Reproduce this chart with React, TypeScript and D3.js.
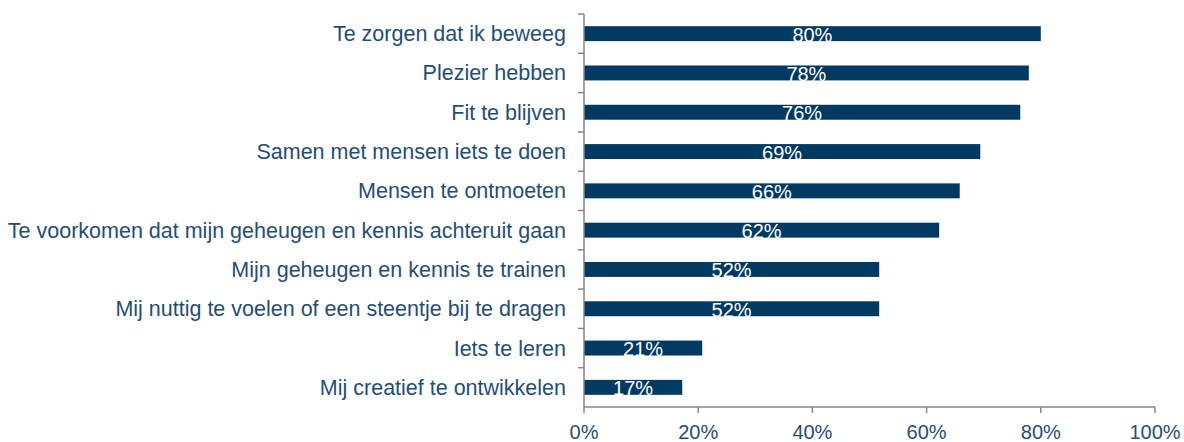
import React, { useEffect, useRef } from 'react';
import * as d3 from 'd3';

const categories = [
  'Te zorgen dat ik beweeg',
  'Plezier hebben',
  'Fit te blijven',
  'Samen met mensen iets te doen',
  'Mensen te ontmoeten',
  'Te voorkomen dat mijn geheugen en kennis achteruit gaan',
  'Mijn geheugen en kennis te trainen',
  'Mij nuttig te voelen of een steentje bij te dragen',
  'Iets te leren',
  'Mij creatief te ontwikkelen',
];
const values = [80.0, 77.9, 76.4, 69.4, 65.8, 62.2, 51.7, 51.7, 20.7, 17.2];
const xTicks = [0, 20, 40, 60, 80, 100];

const W = 1184;
const H = 442;
const TEXT = '#1F4E79';
const BAR = '#003A63';
const AXIS = '#868686';

export default function App() {
  const ref = useRef<SVGSVGElement>(null);

  useEffect(() => {
    const svg = d3.select(ref.current);
    svg.selectAll('*').remove();

    const left = 584, right = 1155, top = 14, bottom = 407;

    const x = d3.scaleLinear().domain([0, 100]).range([left, right]);
    const y = d3.scaleBand().domain(categories).range([top, bottom]).paddingInner(0.62).paddingOuter(0.31);

    const g = svg.append('g').style('font-family', 'Liberation Sans, Arial, sans-serif');

    // bars
    g.selectAll('rect.bar')
      .data(values)
      .enter()
      .append('rect')
      .attr('class', 'bar')
      .attr('x', x(0))
      .attr('y', (d, i) => y(categories[i])!)
      .attr('width', (d) => x(d) - x(0))
      .attr('height', y.bandwidth())
      .attr('fill', BAR);

    // value labels
    g.selectAll('text.val')
      .data(values)
      .enter()
      .append('text')
      .attr('class', 'val')
      .attr('x', (d) => (x(0) + x(d)) / 2)
      .attr('y', (d, i) => y(categories[i])! + y.bandwidth() / 2 + 8)
      .attr('text-anchor', 'middle')
      .attr('fill', '#fff')
      .style('font-size', '20px')
      .text((d) => Math.round(d) + '%');

    // y axis
    const step = (bottom - top) / categories.length;
    g.append('line')
      .attr('x1', left).attr('x2', left)
      .attr('y1', top).attr('y2', bottom)
      .attr('stroke', AXIS).attr('stroke-width', 1.5);
    d3.range(categories.length).forEach((i) => {
      g.append('line')
        .attr('x1', left - 6).attr('x2', left)
        .attr('y1', top + i * step).attr('y2', top + i * step)
        .attr('stroke', AXIS).attr('stroke-width', 1.5);
    });

    g.selectAll('text.cat')
      .data(categories)
      .enter()
      .append('text')
      .attr('class', 'cat')
      .attr('x', left - 18)
      .attr('y', (d) => y(d)! + y.bandwidth() / 2)
      .attr('dy', '0.35em')
      .attr('text-anchor', 'end')
      .attr('fill', TEXT)
      .style('font-size', '21.5px')
      .text((d) => d);

    // x axis
    g.append('line')
      .attr('x1', left).attr('x2', right)
      .attr('y1', bottom).attr('y2', bottom)
      .attr('stroke', AXIS).attr('stroke-width', 1.5);
    xTicks.forEach((t) => {
      g.append('line')
        .attr('x1', x(t)).attr('x2', x(t))
        .attr('y1', bottom).attr('y2', bottom + 6)
        .attr('stroke', AXIS).attr('stroke-width', 1.5);
      g.append('text')
        .attr('x', x(t))
        .attr('y', bottom + 32)
        .attr('text-anchor', 'middle')
        .attr('fill', TEXT)
        .style('font-size', '20px')
        .text(t + '%');
    });
  }, []);

  return (
    <svg ref={ref} width={W} height={H} style={{ position: 'absolute', left: 0, top: 0 }} />
  );
}
